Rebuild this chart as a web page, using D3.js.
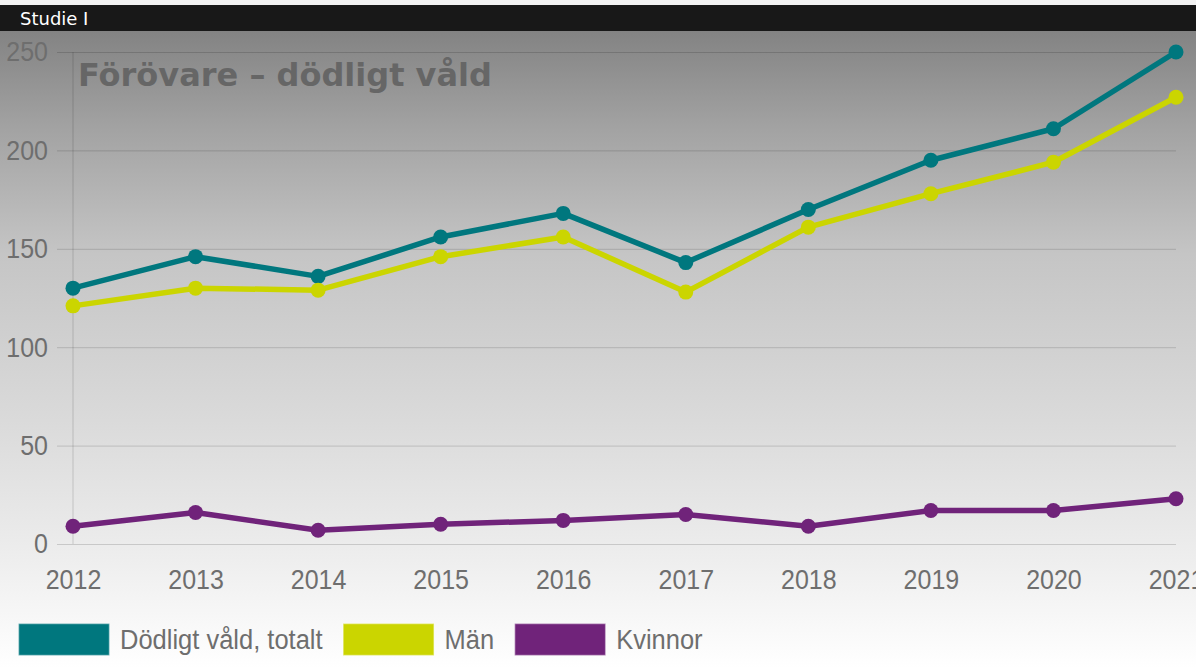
<!DOCTYPE html>
<html>
<head>
<meta charset="utf-8">
<script src="https://cdn.jsdelivr.net/npm/d3@7"></script>
<style>
  body { margin: 0; background: #fff; }
  svg { display: block; }
  .tick text { font-family: "Liberation Sans", Arial, sans-serif; }
</style>
</head>
<body>
<svg id="chart"></svg>
<script>
// data
var years = ["2012", "2013", "2014", "2015", "2016", "2017", "2018", "2019", "2020", "2021"];
var totalt = [130, 146, 136, 156, 168, 143, 170, 195, 211, 250];
var man = [121, 130, 129, 146, 156, 128, 161, 178, 194, 227];
var kvinnor = [9, 16, 7, 10, 12, 15, 9, 17, 17, 23];
var yTicks = [0, 50, 100, 150, 200, 250];

var seriesNames = ["Dödligt våld, totalt", "Män", "Kvinnor"];
var seriesColors = ["#00777e", "#cbd500", "#70237a"];
var seriesValues = [totalt, man, kvinnor];

var W = 1196, H = 668;

var svg = d3.select("#chart")
    .attr("width", W)
    .attr("height", H);

// background gradient
var defs = svg.append("defs");
var grad = defs.append("linearGradient")
    .attr("id", "bg")
    .attr("x1", 0).attr("y1", 0)
    .attr("x2", 0).attr("y2", 1);
grad.append("stop").attr("offset", "0%").attr("stop-color", "#838383");
grad.append("stop").attr("offset", "15%").attr("stop-color", "#a2a2a2");
grad.append("stop").attr("offset", "35%").attr("stop-color", "#c5c5c5");
grad.append("stop").attr("offset", "60%").attr("stop-color", "#d9d9d9");
grad.append("stop").attr("offset", "80%").attr("stop-color", "#ebebeb");
grad.append("stop").attr("offset", "100%").attr("stop-color", "#ffffff");

svg.append("rect")
    .attr("x", 0).attr("y", 0)
    .attr("width", W).attr("height", H)
    .attr("fill", "#f2f2f2");

svg.append("rect")
    .attr("x", 0).attr("y", 31)
    .attr("width", W).attr("height", H - 31)
    .attr("fill", "url(#bg)");

// black header bar
svg.append("rect")
    .attr("x", 0).attr("y", 5)
    .attr("width", W).attr("height", 26)
    .attr("fill", "#181818");

svg.append("text")
    .attr("x", 20)
    .attr("y", 25)
    .attr("fill", "#ffffff")
    .style("font-family", "'DejaVu Sans', Verdana, sans-serif")
    .style("font-size", "18px")
    .text("Studie I");

// scales
var x = d3.scalePoint()
    .domain(years)
    .range([73, 1176]);

var y = d3.scaleLinear()
    .domain([0, 250])
    .range([544, 52]);

// gridlines
var grid = svg.append("g")
    .attr("transform", "translate(57,0)")
    .call(d3.axisRight(y).tickValues(yTicks).tickSize(1176 - 57).tickFormat(""));
grid.select(".domain").remove();
grid.selectAll("line")
    .attr("stroke", "#000")
    .attr("stroke-opacity", 0.15);

// y labels (text a bit taller than wide, like the original)
var gy = svg.append("g")
    .attr("transform", "translate(57,0)")
    .call(d3.axisLeft(y).tickValues(yTicks).tickSize(0).tickPadding(9));
gy.select(".domain").remove();
gy.selectAll("text")
    .attr("fill", "#6e6e6e")
    .attr("transform", "scale(1,1.1)")
    .style("font-size", "25px");

// vertical axis line
svg.append("line")
    .attr("x1", 73).attr("x2", 73)
    .attr("y1", y(250)).attr("y2", y(0))
    .attr("stroke", "#000")
    .attr("stroke-opacity", 0.15);

// x labels
var gx = svg.append("g")
    .attr("transform", "translate(0," + y(0) + ")")
    .call(d3.axisBottom(x).tickSize(0));
gx.select(".domain").remove();
gx.selectAll("text")
    .attr("y", 23)
    .attr("fill", "#6e6e6e")
    .attr("transform", "scale(1,1.1)")
    .style("font-size", "25px");

// title
svg.append("text")
    .attr("x", 78)
    .attr("y", 86)
    .attr("fill", "#666666")
    .style("font-family", "'DejaVu Sans', Verdana, sans-serif")
    .style("font-weight", "bold")
    .style("font-size", "32px")
    .text("Förövare – dödligt våld");

// lines and dots
var line = d3.line()
    .x(function(d, i) { return x(years[i]); })
    .y(function(d) { return y(d); });

seriesValues.forEach(function(vals, s) {
  var g = svg.append("g").attr("class", "series");
  g.append("path")
      .datum(vals)
      .attr("d", line)
      .attr("fill", "none")
      .attr("stroke", seriesColors[s])
      .attr("stroke-width", 5.5)
      .attr("stroke-linejoin", "round");
  g.selectAll("circle")
      .data(vals)
      .enter().append("circle")
      .attr("cx", function(d, i) { return x(years[i]); })
      .attr("cy", function(d) { return y(d); })
      .attr("r", 7.5)
      .attr("fill", seriesColors[s]);
});

// legend
var lx = 18;
seriesNames.forEach(function(name, s) {
  svg.append("rect")
      .attr("x", lx + 0.5)
      .attr("y", 623.5)
      .attr("width", 91)
      .attr("height", 32)
      .attr("fill", seriesColors[s])
      .attr("stroke", "#ffffff")
      .attr("stroke-opacity", 0.45)
      .attr("stroke-width", 1.5);
  var t = svg.append("text")
      .attr("transform", "translate(" + (lx + 102) + ",639) scale(1.02,1.1)")
      .attr("dy", "0.35em")
      .attr("fill", "#6e6e6e")
      .style("font-family", "'Liberation Sans', Arial, sans-serif")
      .style("font-size", "25px")
      .text(name);
  lx = lx + 102 + t.node().getComputedTextLength() * 1.02 + 20;
});
</script>
</body>
</html>
